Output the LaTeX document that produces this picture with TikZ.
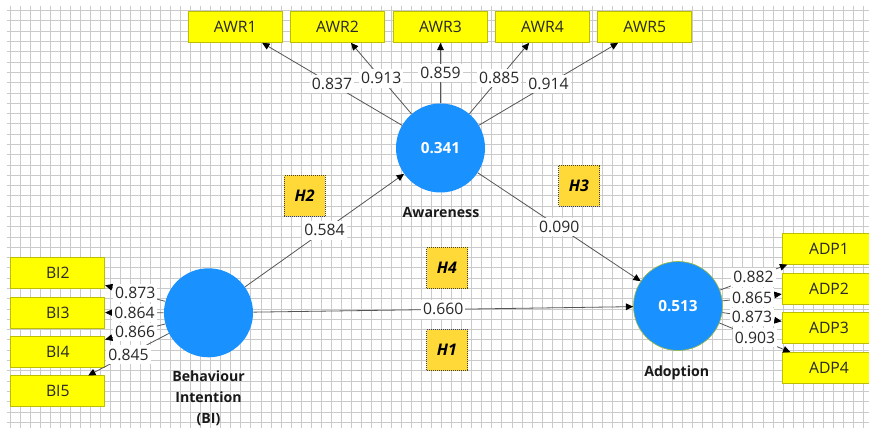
\documentclass[tikz,border=0pt]{standalone}
\usepackage{fontspec}
\setmainfont{Open Sans}
\usetikzlibrary{arrows.meta}
\definecolor{plsblue}{RGB}{25,145,255}
\definecolor{boxyellow}{RGB}{255,255,0}
\definecolor{boxedge}{RGB}{190,190,0}
\definecolor{hgold}{RGB}{255,217,55}
\definecolor{gridgray}{RGB}{202,202,202}
\definecolor{edgegray}{RGB}{85,85,85}
\definecolor{txtgray}{RGB}{40,40,40}
\definecolor{adpedge}{RGB}{150,185,70}
\begin{document}
\begin{tikzpicture}[x=0.75pt,y=-0.75pt,
 every node/.style={font=\fontsize{11.8}{13}\selectfont},
 indbox/.style={draw=boxedge, line width=0.5pt, fill=boxyellow, minimum width=70.5pt, minimum height=23.25pt, inner sep=0pt, text=txtgray},
 latent/.style={circle, fill=plsblue, minimum size=66.75pt, inner sep=0pt, text=white, font=\fontsize{11.5}{13}\selectfont\bfseries},
 hyp/.style={draw=black!75, densely dotted, line width=0.5pt, fill=hgold, minimum size=30.75pt, inner sep=0pt, font=\fontsize{12}{13}\selectfont\bfseries\itshape},
 lvname/.style={font=\fontsize{10.6}{15.75}\selectfont\bfseries, align=center, text=black!90},
 lbl/.style={fill=white, inner xsep=1.5pt, inner ysep=2.5pt, text=txtgray},
 arr/.style={draw=edgegray, line width=0.6pt, -{Triangle[length=5.5pt,width=5pt,color=black]}}
]
\useasboundingbox (0,0) rectangle (869,428);
\clip (0,0) rectangle (869,428);
\fill[white] (0,0) rectangle (869,428);
% grid
\foreach \k in {0,...,85} \draw[gridgray, line width=0.75pt] ({10+10.04*\k},6) -- ({10+10.04*\k},428);
\foreach \k in {0,...,40} \draw[gridgray, line width=0.75pt] (6.7,{10.7+10.29*\k}) -- (869,{10.7+10.29*\k});

% latent variables
\node[latent] (aw) at (440.5,148) {0.341};
\node[latent] (bi) at (208.5,312.8) {};
\node[latent, draw=adpedge, line width=0.5pt] (ad) at (678,306) {0.513};
\node[lvname] (awname) at (441,213) {Awareness};
\node[lvname] (biname) at (208.5,398.3) {Behaviour\\Intention\\(BI)};
\node[lvname] (adname) at (676.7,373.3) {Adoption};

% indicators
\node[indbox] (awr1) at (235.3,27) {AWR1};
\node[indbox] (awr2) at (337.5,27) {AWR2};
\node[indbox] (awr3) at (440.5,27) {AWR3};
\node[indbox] (awr4) at (542.5,27) {AWR4};
\node[indbox] (awr5) at (644.8,27) {AWR5};
\node[indbox] (bi2) at (57.8,272.8) {BI2};
\node[indbox] (bi3) at (57.8,312.5) {BI3};
\node[indbox] (bi4) at (57.8,351.7) {BI4};
\node[indbox] (bi5) at (57.8,391.3) {BI5};
\node[indbox] (adp1) at (829,248.8) {ADP1};
\node[indbox] (adp2) at (829,288.7) {ADP2};
\node[indbox] (adp3) at (829,328.3) {ADP3};
\node[indbox] (adp4) at (829,368) {ADP4};

% hypotheses
\node[hyp] (h2) at (304.7,196) {H2};
\node[hyp] (h3) at (579,185.5) {H3};
\node[hyp] (h4) at (447,268) {H4};
\node[hyp] (h1) at (447,350) {H1};

% structural paths
\draw[arr] (bi) -- node[lbl]{0.584} (aw);
\draw[arr] (aw) -- node[lbl]{0.090} (ad);
\draw[arr] (bi) -- node[lbl]{0.660} (ad);

% outer loadings
\draw[arr] (aw) -- node[lbl]{0.837} (awr1);
\draw[arr] (aw) -- node[lbl]{0.913} (awr2);
\draw[arr] (aw) -- node[lbl]{0.859} (awr3);
\draw[arr] (aw) -- node[lbl]{0.885} (awr4);
\draw[arr] (aw) -- node[lbl]{0.914} (awr5);
\draw[arr] (bi) -- node[lbl]{0.873} (bi2);
\draw[arr] (bi) -- node[lbl]{0.864} (bi3);
\draw[arr] (bi) -- node[lbl]{0.866} (bi4);
\draw[arr] (bi) -- node[lbl]{0.845} (bi5);
\draw[arr] (ad) -- node[lbl]{0.882} (adp1);
\draw[arr] (ad) -- node[lbl]{0.865} (adp2);
\draw[arr] (ad) -- node[lbl]{0.873} (adp3);
\draw[arr] (ad) -- node[lbl]{0.903} (adp4);
\end{tikzpicture}
\end{document}
